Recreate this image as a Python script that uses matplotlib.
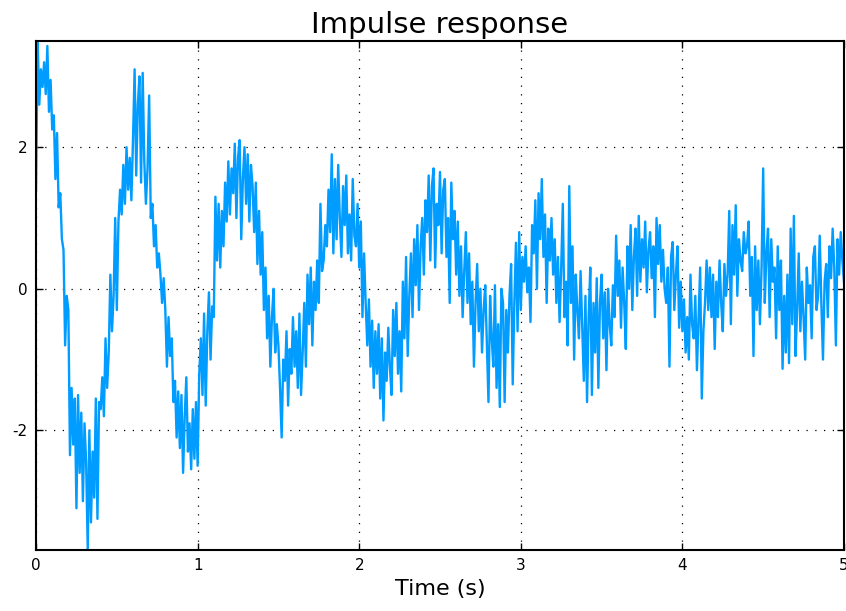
import numpy as np
import matplotlib
matplotlib.use('Agg')
import matplotlib.pyplot as plt

# impulse response samples, dt = 0.01 s
y_vals = [
    1.40, 3.50, 2.60, 3.10, 2.85, 3.20, 2.75, 3.43, 2.50, 2.95, 2.25, 2.45, 1.55, 2.20, 1.15, 1.35, 0.70, 0.55, -0.80, -0.10,
    -0.30, -2.35, -1.40, -2.20, -1.55, -3.10, -1.50, -2.60, -1.75, -3.00, -1.90, -2.45, -3.69, -2.00, -3.30, -2.30, -2.95, -1.55, -3.25, -1.60,
    -1.70, -1.25, -1.80, -0.70, -1.40, -0.90, 0.20, -0.60, -0.10, 1.00, -0.30, 0.95, 1.40, 1.05, 1.75, 1.20, 2.00, 1.40, 1.85, 1.25,
    2.10, 3.10, 1.60, 2.60, 3.00, 1.50, 3.05, 1.80, 1.20, 1.70, 2.73, 1.00, 1.20, 0.60, 0.90, 0.30, 0.50, 0.20, -0.20, 0.15,
    -0.30, -1.10, -0.40, -0.95, -0.70, -1.60, -1.30, -2.10, -1.45, -2.25, -1.50, -2.60, -1.80, -1.25, -2.30, -1.90, -2.55, -1.70, -2.40, -1.60,
    -2.50, -1.20, -0.70, -1.50, -0.35, -1.65, -0.60, -0.05, -1.00, -0.25, -0.40, 1.30, 0.40, 1.20, 0.30, 1.10, 0.60, 1.50, 0.95, 1.80,
    1.05, 1.70, 1.35, 2.05, 1.00, 1.85, 2.10, 0.70, 1.55, 2.00, 1.20, 1.90, 0.95, 1.75, 1.45, 0.80, 1.50, 0.35, 1.10, 0.20,
    0.80, -0.30, 0.30, -0.70, -0.10, -1.10, -0.40, 0.00, -0.90, -0.50, -0.80, -1.40, -2.10, -1.00, -1.30, -0.60, -1.65, -0.85, -1.20, -0.40,
    -1.10, -0.60, -1.40, -0.35, -1.50, -0.90, -0.20, -1.10, 0.20, -0.50, 0.30, -0.80, 0.10, -0.30, 0.40, -0.20, 1.20, 0.25, 0.40, 0.90,
    0.60, 1.40, 0.80, 1.90, 0.50, 1.55, 0.70, 1.75, 1.00, 0.45, 1.45, 0.90, 1.60, 0.50, 1.05, 0.40, 1.55, 0.75, 0.60, 1.20,
    0.30, 0.95, -0.40, 0.50, -0.20, -0.80, -0.15, -1.10, -0.45, -1.40, -0.60, -1.20, -0.50, -1.55, -0.70, -1.86, -0.90, -1.30, -0.55, -1.10,
    -1.50, -0.30, -0.95, -0.20, -1.20, -0.60, -1.45, 0.10, -0.70, 0.45, -0.95, -0.10, 0.50, -0.40, 0.70, 0.05, 0.90, -0.30, 0.60, 1.00,
    0.20, 1.25, 0.80, 1.60, 0.40, 1.45, 1.70, 0.30, 1.20, 0.90, 1.65, 0.50, 1.40, 1.55, 0.45, 1.00, -0.20, 1.50, 0.70, 1.10,
    0.20, 0.95, -0.10, 0.60, -0.40, 0.25, 0.80, -0.20, 0.50, -0.50, 0.10, -1.10, -0.20, 0.35, -0.60, 0.00, -0.90, -0.30, 0.05, -0.80,
    -1.60, -0.10, -0.70, -1.10, 0.05, -1.40, -0.50, -1.67, 0.00, -0.20, -1.60, -0.30, -0.90, -0.10, 0.35, -1.35, -0.20, 0.65, -0.60, 0.80,
    -0.30, 0.45, 0.10, 0.60, -0.05, 0.30, -0.47, 0.90, 0.50, 1.25, 0.00, 1.35, 0.70, 1.55, 0.45, 1.05, -0.20, 0.85, 0.40, 1.00,
    0.20, 0.70, -0.20, 0.45, -0.47, 0.30, 1.20, -0.40, 0.10, -0.80, 1.45, -0.20, 0.60, -1.00, 0.20, -0.30, -0.70, 0.25, -0.50, -1.30,
    -0.10, -1.60, -0.40, 0.30, -1.50, -0.20, -0.90, 0.15, -1.40, -0.20, 0.20, -0.70, -0.05, -1.15, 0.00, -0.50, -0.80, 0.05, -0.40, 0.75,
    -0.10, 0.40, -0.55, 0.30, -0.20, -0.85, 0.60, 0.00, 0.90, -0.30, 0.45, 0.85, -0.10, 1.03, 0.10, 0.70, 0.30, 0.95, -0.05, 0.55,
    0.80, 0.15, 0.60, -0.40, 1.00, 0.35, 0.90, 0.10, 0.55, 0.00, -0.20, 0.30, -1.10, 0.45, 0.66, -0.30, 0.20, 0.60, -0.55, 0.10,
    -0.60, -0.15, -0.90, -0.40, -1.00, 0.20, -0.50, -0.70, -0.10, -1.15, -0.40, 0.30, -1.55, -0.60, -0.20, 0.40, -0.30, 0.30, -0.40, 0.20,
    -0.85, 0.10, -0.40, 0.40, -0.20, -0.60, 0.35, -0.10, 0.20, 1.10, -0.50, 0.90, 0.20, 1.18, -0.10, 0.70, 0.40, 0.25, 0.80, 0.50,
    0.60, 0.95, -0.10, 0.45, -0.95, 0.60, -0.30, 0.40, -0.50, 0.30, 1.70, -0.20, 0.50, 0.85, -0.40, 0.70, 0.10, 0.30, -0.70, 0.60,
    -0.30, 0.40, -1.13, -0.10, -0.90, 0.20, -1.05, 0.85, -0.50, 1.03, -0.95, -0.30, 0.50, -0.60, 0.10, -0.40, -1.00, 0.30, -0.20, 0.05,
    -0.70, 0.45, 0.60, -0.30, -0.10, 0.75, -0.20, -1.00, 0.10, 0.35, -0.40, 0.60, 0.15, 0.85, 0.30, -0.80, 0.70, 0.20, 0.80, 0.40,
    0.10,
]
dt = 0.01
t_vals = np.arange(len(y_vals)) * dt

x_ticks = [0, 1, 2, 3, 4, 5]
y_ticks = [-2, 0, 2]

plt.rcParams['axes.unicode_minus'] = False
plt.rcParams['font.family'] = 'DejaVu Sans'

fig = plt.figure(figsize=(8.46, 6.11), dpi=100)
ax = fig.add_axes([0.0426, 0.0998, 0.955, 0.8331])

ax.plot(t_vals, y_vals, color='#009cff', linewidth=1.7)

ax.set_xlim(0, 5)
ax.set_ylim(-3.69, 3.5)
ax.set_xticks(x_ticks)
ax.set_yticks(y_ticks)
ax.tick_params(direction='in', top=True, right=True, length=5, width=1, labelsize=11, pad=6)
ax.grid(True, linestyle=(0, (1, 6)), color='k', linewidth=0.9)
for s in ax.spines.values():
    s.set_linewidth(1.5)

ax.set_xlabel('Time (s)', fontsize=16)
ax.set_title('Impulse response', fontsize=21)

fig.savefig('out.png', dpi=100)
